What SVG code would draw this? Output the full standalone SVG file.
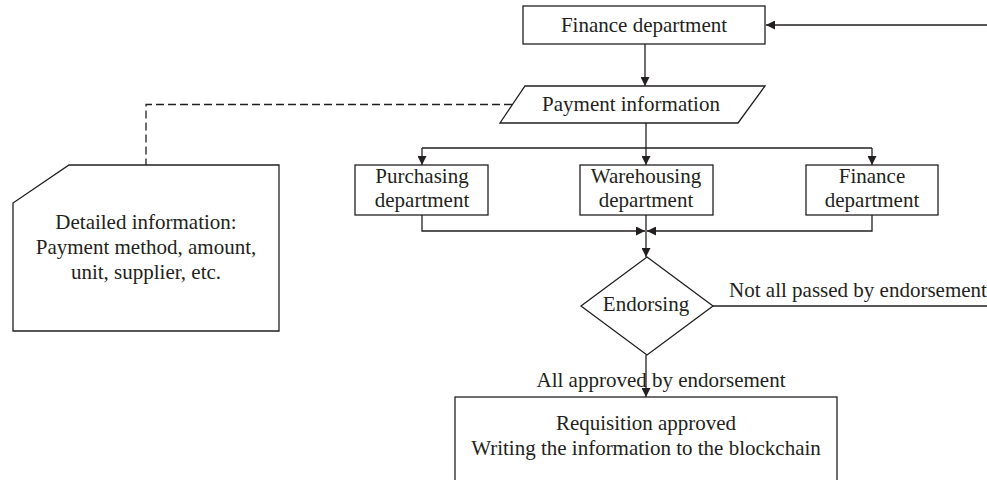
<svg xmlns="http://www.w3.org/2000/svg" width="987" height="480" viewBox="0 0 987 480">
<defs>
<style>
.n{fill:#fff;stroke:#231f20;stroke-width:1.3}
.t{font-family:"Liberation Serif","Times New Roman",serif;font-size:21px;fill:#231f20;text-anchor:middle}
.c{fill:none;stroke:#231f20;stroke-width:1.3}
.d{fill:none;stroke:#231f20;stroke-width:1.3;stroke-dasharray:8 4}
</style>
<marker id="ah" viewBox="0 0 10 10" refX="10" refY="5" markerWidth="9" markerHeight="9" markerUnits="userSpaceOnUse" orient="auto">
<path d="M0,0 L10,5 L0,10 z" fill="#231f20"/>
</marker>
</defs>
<rect width="987" height="480" fill="#fff"/>
<g id="connectors">
<path class="c" d="M987,25 H766" marker-end="url(#ah)"/>
<path class="c" d="M645,44 V86" marker-end="url(#ah)"/>
<path class="c" d="M646,123 V148"/>
<path class="c" d="M422,148 H872"/>
<path class="c" d="M422,148 V165" marker-end="url(#ah)"/>
<path class="c" d="M646,148 V165" marker-end="url(#ah)"/>
<path class="c" d="M872,148 V165" marker-end="url(#ah)"/>
<path class="c" d="M422,215 V231 H645" marker-end="url(#ah)"/>
<path class="c" d="M872,215 V231 H647" marker-end="url(#ah)"/>
<path class="c" d="M646,215 V257" marker-end="url(#ah)"/>
<path class="c" d="M646,355 V397" marker-end="url(#ah)"/>
<path class="c" d="M713,306 H987"/>
<path class="d" d="M512,104.5 H146 V165"/>
<text class="t" x="858" y="297">Not all passed by endorsement</text>
<text class="t" x="661" y="387">All approved by endorsement</text>
</g>
<g id="finance-top">
<rect class="n" x="523" y="6" width="242" height="38"/>
<text class="t" x="644" y="32">Finance department</text>
</g>
<g id="payment-info">
<polygon class="n" points="525,86 765,86 738,123 500,123"/>
<text class="t" x="631" y="111">Payment information</text>
</g>
<g id="detailed-info">
<polygon class="n" points="69,165 279,165 279,331 13,331 13,203"/>
<text class="t" x="146" y="229">Detailed information:</text>
<text class="t" x="146" y="254">Payment method, amount,</text>
<text class="t" x="146" y="279">unit, supplier, etc.</text>
</g>
<g id="purchasing">
<rect class="n" x="355" y="165" width="133" height="50"/>
<text class="t" x="422" y="183">Purchasing</text>
<text class="t" x="422" y="207">department</text>
</g>
<g id="warehousing">
<rect class="n" x="580" y="165" width="133" height="50"/>
<text class="t" x="646" y="183">Warehousing</text>
<text class="t" x="646" y="207">department</text>
</g>
<g id="finance-2">
<rect class="n" x="806" y="165" width="132" height="50"/>
<text class="t" x="872" y="183">Finance</text>
<text class="t" x="872" y="207">department</text>
</g>
<g id="endorsing">
<polygon class="n" points="647,257 713,306 647,355 581,306"/>
<text class="t" x="646" y="311">Endorsing</text>
</g>
<g id="requisition">
<rect class="n" x="455" y="397" width="382" height="90"/>
<text class="t" x="646" y="430">Requisition approved</text>
<text class="t" x="646" y="455">Writing the information to the blockchain</text>
</g>
</svg>
